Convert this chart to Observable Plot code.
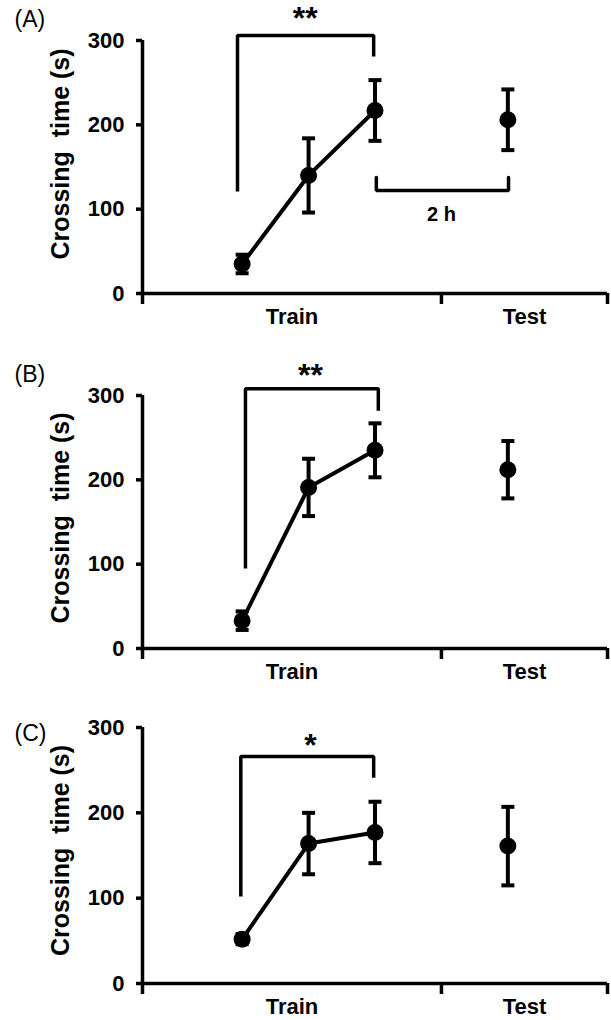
<!DOCTYPE html>
<html>
<head>
<meta charset="utf-8">
<script src="https://cdn.jsdelivr.net/npm/d3@7"></script>
<script src="https://cdn.jsdelivr.net/npm/@observablehq/plot@0.6"></script>
<style>
  html, body { margin: 0; padding: 0; background: #fff; }
  #chart svg { display: block; }
</style>
</head>
<body>
<div id="chart"></div>
<script>
// ---- data ----
const stagePos = [1, 2, 3, 5];            // Train 1, Train 2, Train 3, Test (2 h later)
const trainCount = 3;
const phaseLabels = ["Train", "Test"];
const phaseCenters = [1.75, 5.25];
const phaseBounds = [-0.5, 4, 6.5];
const yTicks = [0, 100, 200, 300];
const yLabel = "Crossing\u00a0 time (s)";

const meanA = [35, 140, 217, 206];
const errA  = [11, 44, 36, 36];
const meanB = [33, 191, 235, 212];
const errB  = [11, 34, 32, 34];
const meanC = [52, 164, 177, 161];
const errC  = [6, 36, 36, 46];

// significance brackets: [x left, x right, top, left bottom, right bottom]
const bracketA = [0.93, 2.98, 306, 121, 281];
const bracketB = [1.05, 3.05, 308, 95, 282];
const bracketC = [0.98, 2.98, 266, 102, 241];
const starsA = {x: 1.95, y: 326, text: "**"};
const starsB = {x: 2.03, y: 324, text: "**"};
const starsC = {x: 2.03, y: 279, text: "*"};
// delay bracket in panel A: [x left, x right, bar, tips]
const delayA = [3.02, 5.01, 122, 137.5];
const delayTextA = {x: 4.0, y: 93, text: "2 h"};

// ---- drawing ----
const FONT = "'Liberation Sans', Arial, sans-serif";
const SW = 3.5;
const cap = {draw(ctx, size) { const r = Math.sqrt(size / Math.PI); ctx.moveTo(-r, 0); ctx.lineTo(r, 0); }};

function makePanel(p) {
  const rows = stagePos.map((x, i) => ({x, y: p.mean[i], lo: p.mean[i] - p.err[i], hi: p.mean[i] + p.err[i]}));
  const b = p.bracket;
  const bracketPts = [[b[0], b[3]], [b[0], b[2]], [b[1], b[2]], [b[1], b[4]]];
  const marks = [
    Plot.ruleX([phaseBounds[0]], {y1: 0, y2: 300, strokeWidth: SW}),
    Plot.ruleY([0], {strokeWidth: SW}),
    Plot.axisY({ticks: yTicks, tickSize: 6, tickPadding: 12, strokeWidth: SW, fontSize: 22, fontWeight: "bold", label: null}),
    Plot.axisX({ticks: phaseBounds, tickSize: 11, tickFormat: () => "", strokeWidth: SW, label: null}),
    Plot.axisX({ticks: phaseCenters, tickSize: 0, tickPadding: 15, tickFormat: (d, i) => phaseLabels[i], fontSize: 22, fontWeight: "bold", label: null}),
    Plot.text([yLabel], {frameAnchor: "left", rotate: -90, dx: -82, dy: p.yLabelDy, fontSize: 25, fontWeight: "bold", textAnchor: "middle"}),
    Plot.text([p.label], {frameAnchor: "top-left", dx: -128, dy: p.labelDy, fontSize: 23, textAnchor: "start"}),
    Plot.line(bracketPts, {x: d => d[0], y: d => d[1], strokeWidth: SW, strokeLinejoin: "miter", strokeLinecap: "butt"}),
    Plot.text([p.stars], {x: "x", y: "y", text: "text", fontSize: 32, fontWeight: "bold"}),
    Plot.ruleX(rows, {x: "x", y1: "lo", y2: "hi", strokeWidth: 4}),
    Plot.dot(rows, {x: "x", y: "lo", symbol: cap, r: 6.5, stroke: "black", strokeWidth: 4}),
    Plot.dot(rows, {x: "x", y: "hi", symbol: cap, r: 6.5, stroke: "black", strokeWidth: 4}),
    Plot.line(rows.slice(0, trainCount), {x: "x", y: "y", strokeWidth: 4}),
    Plot.dot(rows, {x: "x", y: "y", r: 8.5, fill: "black", stroke: "none"})
  ];
  if (p.delay) {
    const dl = p.delay;
    marks.push(Plot.line([[dl[0], dl[3]], [dl[0], dl[2]], [dl[1], dl[2]], [dl[1], dl[3]]],
      {x: d => d[0], y: d => d[1], strokeWidth: SW, strokeLinejoin: "miter"}));
    marks.push(Plot.text([p.delayText], {x: "x", y: "y", text: "text", fontSize: 20, fontWeight: "bold"}));
  }
  return Plot.plot({
    width: 611,
    height: p.height,
    marginTop: p.marginTop,
    marginBottom: p.marginBottom,
    marginLeft: 142,
    marginRight: 4,
    x: {type: "linear", domain: [phaseBounds[0], phaseBounds[2]]},
    y: {domain: [0, 300]},
    style: {fontFamily: FONT, color: "black", background: "white", overflow: "visible"},
    marks
  });
}

const chart = document.getElementById("chart");
chart.append(makePanel({label: "(A)", mean: meanA, err: errA, bracket: bracketA, stars: starsA,
  delay: delayA, delayText: delayTextA, height: 345, marginTop: 40, marginBottom: 52, labelDy: -30, yLabelDy: -13}));
chart.append(makePanel({label: "(B)", mean: meanB, err: errB, bracket: bracketB, stars: starsB,
  height: 355, marginTop: 50, marginBottom: 52, labelDy: -30, yLabelDy: -4}));
chart.append(makePanel({label: "(C)", mean: meanC, err: errC, bracket: bracketC, stars: starsC,
  height: 320, marginTop: 27, marginBottom: 37, labelDy: -3, yLabelDy: -5}));
</script>
</body>
</html>
